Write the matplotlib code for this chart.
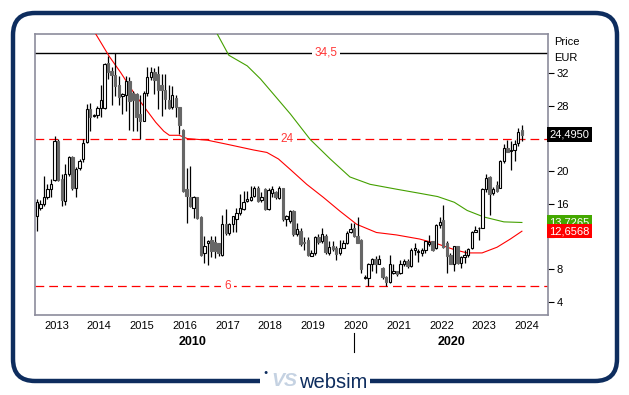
import numpy as np
import matplotlib
matplotlib.use("Agg")
import matplotlib.pyplot as plt
from matplotlib.patches import FancyBboxPatch, Rectangle

plt.rcParams['font.family'] = ['Liberation Sans', 'DejaVu Sans']

# monthly candles, first one is Jul 2012
opens = [14.5, 15.5, 16.0, 16.9, 17.8, 18.9, 23.7, 19.1, 16.4, 19.7, 21.7, 17.9,
         20.4, 21.5, 23.6, 27.6, 26.8, 26.9, 27.8, 27.7, 33.2, 32.3, 31.8, 30.5,
         29.2, 29.3, 31.1, 29.6, 29.4, 27.0, 26.2, 29.6, 31.5, 32.1, 31.9, 30.5,
         30.0, 28.7, 27.9, 29.0, 27.9, 25.1, 17.8, 16.9, 15.5, 16.9, 14.4, 10.0,
         11.2, 11.6, 11.3, 11.2, 9.8, 13.5, 12.4, 13.6, 14.2, 14.9, 15.4, 16.3,
         16.5, 17.0, 17.9, 16.5, 17.8, 15.4, 17.3, 17.4, 16.7, 17.9, 14.1, 13.9,
         15.1, 12.3, 12.7, 11.3, 11.6, 9.6, 10.0, 11.9, 11.4, 12.1, 10.0, 10.9,
         10.6, 10.0, 10.6, 11.2, 12.5, 13.0, 12.1, 11.6, 6.9, 6.9, 8.6, 9.2,
         8.7, 8.2, 7.0, 6.4, 7.6, 7.8, 7.6, 8.6, 9.0, 8.4, 10.4, 10.1,
         10.0, 10.4, 11.1, 11.4, 10.6, 13.4, 14.0, 11.2, 9.8, 8.7, 10.9, 8.8,
         9.5, 9.7, 10.6, 12.6, 13.0, 13.1, 17.8, 19.3, 17.3, 18.3, 18.0, 21.2,
         22.9, 22.5, 22.6, 23.5, 25.0]
closes = [16.2, 16.0, 16.9, 17.8, 18.4, 23.7, 18.9, 16.5, 19.7, 21.8, 17.9, 20.3,
          21.3, 23.4, 27.6, 26.6, 26.9, 27.8, 28.7, 33.1, 32.1, 31.8, 30.4, 29.1,
          29.4, 31.1, 28.6, 28.7, 26.6, 26.1, 29.6, 31.5, 32.1, 31.2, 30.0, 30.0,
          28.9, 27.7, 29.3, 27.9, 25.6, 17.6, 17.0, 15.8, 16.8, 14.3, 9.8, 10.9,
          11.4, 10.2, 10.2, 10.0, 13.6, 12.4, 13.5, 14.5, 14.9, 15.5, 16.2, 16.6,
          16.9, 17.9, 16.4, 16.8, 15.4, 17.7, 17.8, 16.8, 17.9, 14.1, 14.5, 15.1,
          12.3, 12.9, 11.1, 11.2, 9.8, 10.0, 11.9, 11.3, 12.3, 10.1, 10.7, 10.5,
          9.9, 10.6, 11.2, 12.4, 12.9, 12.1, 11.2, 8.0, 7.1, 8.7, 9.2, 8.7,
          9.3, 7.0, 6.4, 8.6, 7.8, 7.4, 8.6, 9.0, 8.4, 10.4, 10.6, 10.2,
          10.4, 11.4, 11.3, 10.4, 13.4, 13.8, 10.7, 9.6, 8.7, 10.8, 8.8, 9.5,
          9.8, 10.5, 12.6, 12.8, 13.1, 17.8, 19.2, 17.2, 17.8, 17.6, 21.2, 22.9,
          22.4, 22.6, 23.3, 24.8, 24.495]
highs = [16.6, 16.5, 19.4, 18.4, 19.0, 24.3, 23.9, 19.6, 20.9, 21.9, 21.9, 20.5,
         21.5, 23.9, 28.2, 28.3, 27.0, 28.0, 30.6, 33.3, 34.1, 32.7, 34.5, 31.7,
         29.6, 31.7, 31.5, 29.8, 29.6, 29.3, 29.8, 32.7, 32.8, 32.6, 32.9, 31.9,
         31.9, 30.6, 30.4, 29.3, 27.9, 25.2, 20.4, 20.6, 17.0, 16.9, 14.5, 12.1,
         11.6, 12.1, 12.1, 11.2, 14.7, 15.4, 13.7, 14.5, 15.5, 17.2, 17.6, 17.6,
         18.2, 18.2, 18.2, 17.4, 18.0, 18.0, 18.2, 17.6, 18.2, 17.9, 14.7, 15.2,
         15.3, 13.7, 13.1, 11.9, 11.9, 10.4, 12.1, 12.3, 13.1, 12.3, 11.4, 11.5,
         10.9, 11.6, 11.6, 12.7, 13.7, 13.7, 14.4, 11.7, 7.3, 8.8, 9.4, 9.6,
         9.7, 8.3, 7.2, 9.8, 8.6, 7.8, 9.1, 9.2, 9.2, 10.6, 11.2, 10.5,
         10.6, 11.5, 12.2, 11.5, 13.5, 14.4, 15.9, 11.4, 10.0, 10.9, 10.9, 9.6,
         10.3, 10.6, 12.7, 13.3, 13.2, 17.9, 19.6, 19.4, 18.1, 18.8, 21.4, 23.3,
         23.8, 23.7, 23.8, 25.3, 25.6]
lows = [12.7, 15.3, 15.7, 16.6, 16.8, 18.8, 18.8, 15.7, 15.9, 19.4, 17.7, 16.9,
        20.2, 21.1, 23.5, 24.9, 26.6, 26.5, 26.6, 27.6, 31.3, 28.1, 29.2, 28.1,
        27.0, 27.4, 25.1, 24.9, 24.9, 23.9, 26.1, 29.2, 31.2, 29.4, 27.6, 26.8,
        27.6, 27.6, 27.6, 26.7, 24.5, 17.5, 13.7, 15.6, 14.3, 14.2, 9.6, 8.8,
        8.5, 9.5, 9.4, 9.6, 9.6, 12.2, 12.2, 12.6, 12.5, 14.7, 15.2, 16.2,
        16.4, 16.8, 16.2, 16.2, 15.3, 15.3, 16.8, 16.6, 16.6, 13.9, 13.3, 13.7,
        12.1, 12.1, 10.9, 10.3, 9.6, 9.6, 9.8, 11.1, 11.2, 9.9, 9.8, 10.2,
        9.1, 9.8, 10.9, 11.1, 12.4, 11.9, 11.2, 7.5, 6.8, 6.0, 7.8, 7.6,
        8.6, 6.8, 5.9, 6.3, 7.4, 7.2, 7.4, 8.4, 8.2, 8.3, 9.8, 8.9,
        9.6, 10.0, 10.8, 10.2, 10.5, 13.0, 10.6, 7.6, 8.6, 7.8, 8.6, 8.2,
        8.8, 9.5, 10.5, 12.5, 11.6, 13.0, 17.5, 14.7, 17.1, 17.5, 17.9, 21.0,
        22.3, 20.2, 21.2, 23.1, 23.7]

# moving averages (year, value)
ma_red_x = [2013.92, 2014.23, 2014.50, 2014.81, 2015.12, 2015.32, 2015.51, 2015.64,
            2015.87, 2016.06, 2016.53, 2016.99, 2017.61, 2017.92, 2018.19, 2018.47,
            2018.85, 2019.24, 2019.63, 2020.02, 2020.48, 2020.95, 2021.49, 2021.91,
            2022.30, 2022.60, 2022.95, 2023.30, 2023.61, 2023.88]
ma_red_y = [36.8, 34.1, 32.1, 29.6, 27.4, 26.0, 24.9, 24.4,
            24.4, 24.0, 23.8, 23.3, 22.6, 22.3, 21.5, 20.2,
            18.4, 16.8, 15.1, 13.5, 12.5, 12.2, 11.7, 11.1,
            10.4, 10.0, 10.0, 10.7, 11.7, 12.6568]
ma_green_x = [2016.76, 2017.03, 2017.46, 2017.77, 2018.08, 2018.47, 2018.93, 2019.40,
              2019.86, 2020.33, 2020.95, 2021.49, 2021.91, 2022.30, 2022.60, 2022.99,
              2023.46, 2023.88]
ma_green_y = [36.8, 34.2, 32.9, 31.3, 29.4, 27.0, 23.9, 21.5,
              19.3, 18.4, 17.8, 17.3, 16.9, 16.2, 15.2, 14.4,
              13.8, 13.7265]

levels = [34.5, 24, 6]
level_labels = ["34,5", "24", "6"]
year_ticks = list(range(2013, 2025))
price_ticks = [4, 8, 12, 16, 20, 24, 28, 32]
price_labels = ["4", "8", "", "16", "20", "", "28", "32"]  # 12 and 24 sit under the value boxes

opens = np.array(opens)
closes = np.array(closes)
highs = np.array(highs)
lows = np.array(lows)
n = len(closes)
xs = 2012 + (6 + np.arange(n) + 0.5) / 12.0

fig = plt.figure(figsize=(6.29, 3.95), dpi=100)
ax = fig.add_axes([35 / 629, 80 / 395, 513 / 629, 281 / 395])

# level lines
ax.axhline(34.5, color="black", lw=1.0, zorder=1)
ax.axhline(24, color="red", lw=0.9, ls=(0, (7, 4)), zorder=1)
ax.axhline(6, color="red", lw=0.9, ls=(0, (7, 4)), zorder=1)
for lv, lab, xp in zip(levels, level_labels, [2019.3, 2018.4, 2017.0]):
    ax.text(xp, lv, lab, color="#ff3838", fontsize=8.5, ha="center", va="center",
            bbox=dict(facecolor="white", edgecolor="none", pad=2), zorder=2)

# moving averages
ax.plot(ma_red_x, ma_red_y, color="red", lw=0.8, zorder=3)
ax.plot(ma_green_x, ma_green_y, color="#44a000", lw=0.8, zorder=3)

# candles
ax.vlines(xs, lows, highs, color="black", lw=0.9, zorder=4)
up = closes >= opens
bw = 0.055
ax.bar(xs[up], (closes - opens)[up], bottom=opens[up], width=bw,
       color="white", edgecolor="black", linewidth=0.8, zorder=5)
ax.bar(xs[~up], (opens - closes)[~up], bottom=closes[~up], width=bw,
       color="#666666", edgecolor="#666666", linewidth=0.8, zorder=5)

ax.set_xlim(2012.5, 2024.49)
ax.set_ylim(2.4, 36.8)
ax.set_xticks(year_ticks)
ax.set_xticklabels([str(y) for y in year_ticks])
ax.tick_params(axis="x", length=0, labelsize=8, pad=4)
ax.yaxis.tick_right()
ax.set_yticks(price_ticks)
ax.set_yticklabels(price_labels)
ax.tick_params(axis="y", direction="out", length=4, labelsize=8, pad=2,
               color="black")
for sp in ax.spines.values():
    sp.set_color("#8c8c9c")
    sp.set_linewidth(1.2)

# right side labels
ax.text(1.012, 0.97, "Price", transform=ax.transAxes, fontsize=8, va="center")
ax.text(1.012, 0.915, "EUR", transform=ax.transAxes, fontsize=8, va="center")
for val, txt, bg in [(24.495, "24,4950", "black"), (13.7265, "13,7265", "#44a800"),
                     (12.6568, "12,6568", "#ff0000")]:
    ax.text(1.003, val, txt, transform=ax.get_yaxis_transform(), fontsize=8,
            color="white", va="center", ha="left", zorder=10,
            bbox=dict(facecolor=bg, edgecolor="none", pad=1.6))

# decade labels
fig.text(193 / 629, 1 - 342 / 395, "2010", fontsize=9, fontweight="bold",
         ha="center", va="center")
fig.text(452 / 629, 1 - 342 / 395, "2020", fontsize=9, fontweight="bold",
         ha="center", va="center")
fig.add_artist(plt.Line2D([354 / 629, 354 / 629], [1 - 333 / 395, 1 - 352 / 395],
                          color="black", lw=0.8))

# outer frame
frame = FancyBboxPatch((0.13, 0.14), 6.04, 3.68,
                       boxstyle="round,pad=0,rounding_size=0.22",
                       transform=fig.dpi_scale_trans, facecolor="none",
                       edgecolor="#0e2d5e", linewidth=3.2)
fig.add_artist(frame)
fig.add_artist(Rectangle((2.60, 0.0), 1.10, 0.3, transform=fig.dpi_scale_trans,
                         facecolor="white", edgecolor="none"))
fig.text(2.66 / 6.29, 0.22 / 3.95, "\u25cf", fontsize=5, color="#0e2d5e",
         ha="center", va="center")
fig.text(2.84 / 6.29, 0.13 / 3.95, "VS", fontsize=14, color="#c5d2e2",
         fontstyle="italic", fontweight="bold", ha="center", va="center")
fig.text(2.99 / 6.29, 0.12 / 3.95, "websim", fontsize=14.5, color="#0e2d5e",
         ha="left", va="center")

fig.savefig("out.png", dpi=100)
